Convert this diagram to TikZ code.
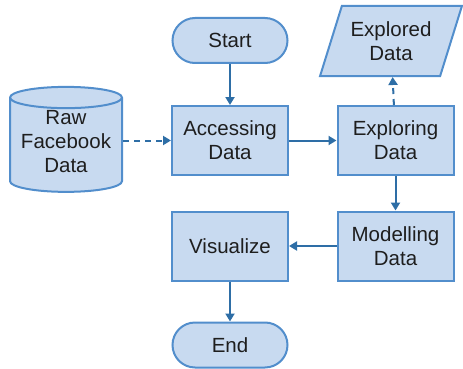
\documentclass[tikz,border=0pt]{standalone}
\usepackage{fontspec}
\setmainfont{Liberation Sans}
\usetikzlibrary{shapes.geometric,arrows.meta}
\definecolor{boxfill}{RGB}{200,218,240}
\definecolor{boxline}{RGB}{82,142,204}
\definecolor{flowline}{RGB}{46,110,166}
\definecolor{txt}{RGB}{30,30,30}
\tikzset{
  stepbox/.style={draw=boxline, fill=boxfill, line width=2pt, minimum width=116, minimum height=69,
     align=center, text=txt, font=\fontsize{20.5}{24}\selectfont},
  terminal/.style={stepbox, rounded corners=22.5, minimum height=45, minimum width=115},
  store/.style={stepbox, cylinder, shape border rotate=90, aspect=0.22, minimum width=112, minimum height=105},
  io/.style={stepbox, trapezium, trapezium left angle=67, trapezium right angle=113,
     trapezium stretches=true, minimum width=142, minimum height=70},
  flow/.style={draw=flowline, line width=2pt, -{Triangle[length=8pt,width=9pt]}},
}
\begin{document}
\begin{tikzpicture}[x=1pt,y=1pt]
\useasboundingbox (0,0) rectangle (463,-369);
%
             \node [terminal] at (230,-40.5) (start) {Start};
             \node [stepbox] at (230,-140.5) (access) {Accessing\\Data};
             \node [stepbox] at (395.5,-140.5) (explore) {Exploring\\Data};
             \node [io] at (391,-41) (explored) {Explored\\Data};
             \node [store] at (66,-147) (raw) {\raisebox{-1.5pt}[0pt][0pt]{\begin{tabular}{@{}c@{}}Raw\\Facebook\\Data\end{tabular}}};
             \node [stepbox] at (395.5,-246) (model) {Modelling\\Data};
             \node [stepbox] at (230,-246) (visual) {Visualize};
             \node [terminal] at (230,-345) (end) {End};
%
\draw[flow] (start) -- (access);
\draw[flow, dashed, dash pattern=on 6pt off 5pt] (raw.east |- access) -- (access);
\draw[flow] (access) -- (explore);
\draw[flow, dashed, dash pattern=on 6pt off 5pt] (explore) -- (explored);
\draw[flow] (explore) -- (model);
\draw[flow] (model) -- (visual);
\draw[flow] (visual) -- (end);
\end{tikzpicture}
\end{document}
